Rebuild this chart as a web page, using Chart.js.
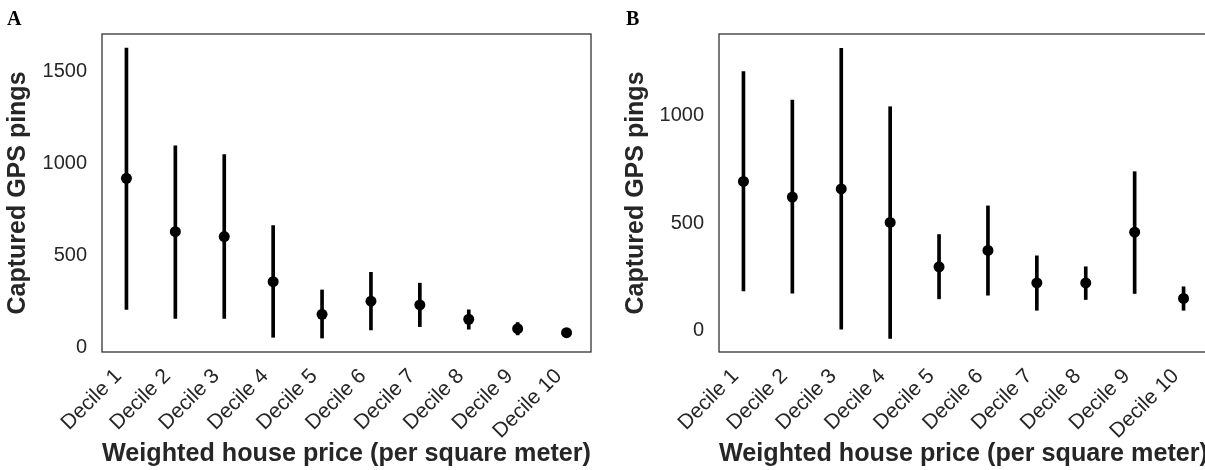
<!DOCTYPE html>
<html>
<head>
<meta charset="utf-8">
<script src="https://cdn.jsdelivr.net/npm/chart.js@4.4.1/dist/chart.umd.min.js"></script>
<style>
  html, body { margin: 0; padding: 0; background: #fff; width: 1205px; height: 470px; overflow: hidden; position: relative; }
  #wa { position: absolute; left: 0; top: 0; width: 600px; height: 470px; }
  #wb { position: absolute; left: 600px; top: 0; width: 620px; height: 470px; }
</style>
</head>
<body>
<div id="wa"><canvas id="ca"></canvas></div>
<div id="wb"><canvas id="cb"></canvas></div>
<script>
// ---- data ----
const categories = ["Decile 1","Decile 2","Decile 3","Decile 4","Decile 5","Decile 6","Decile 7","Decile 8","Decile 9","Decile 10"];

// Panel A
const meanA = [922, 632, 605, 360, 183, 254, 234, 156, 105, 83];
const lowA  = [210, 161, 161, 58, 54, 98, 116, 102, 71, 70];
const highA = [1630, 1098, 1051, 665, 315, 411, 352, 207, 138, 97];
const yTicksA = [0, 500, 1000, 1500];

// Panel B
const meanB = [695, 622, 660, 504, 298, 374, 223, 223, 459, 151];
const lowB  = [186, 175, 8, -35, 149, 166, 96, 146, 174, 96];
const highB = [1205, 1073, 1313, 1042, 448, 581, 349, 298, 740, 205];
const yTicksB = [0, 500, 1000];

const yTitle = "Captured GPS pings";
const xTitle = "Weighted house price (per square meter)";

const TEXT = '#262626';
const SANS = '"Liberation Sans", Arial, sans-serif';

function boxPlugin(letter, lx) {
  return {
    id: 'box' + letter,
    afterDraw(chart) {
      const {ctx, chartArea: a} = chart;
      ctx.save();
      ctx.strokeStyle = '#333';
      ctx.lineWidth = 1.3;
      ctx.strokeRect(a.left, a.top, a.right - a.left, a.bottom - a.top);
      ctx.fillStyle = '#000';
      ctx.font = 'bold 20px "Liberation Serif", serif';
      ctx.textBaseline = 'alphabetic';
      ctx.fillText(letter, lx, 25);
      ctx.restore();
    }
  };
}

function makeChart(id, mean, low, high, yTicks, yMin, yMax, cfg) {
  const ranges = low.map((l, i) => [l, high[i]]);
  return new Chart(document.getElementById(id), {
    data: {
      labels: categories,
      datasets: [
        {
          type: 'line',
          data: mean,
          showLine: false,
          pointRadius: 5.5,
          pointHoverRadius: 5.5,
          pointBackgroundColor: '#000',
          pointBorderColor: '#000',
          pointBorderWidth: 0,
          order: 1
        },
        {
          type: 'bar',
          data: ranges,
          backgroundColor: '#000',
          borderWidth: 0,
          barThickness: 3,
          order: 2
        }
      ]
    },
    options: {
      responsive: true,
      maintainAspectRatio: false,
      animation: false,
      devicePixelRatio: 1,
      layout: { padding: { top: 34, right: cfg.right, left: 0, bottom: 0 } },
      plugins: { legend: { display: false }, tooltip: { enabled: false } },
      scales: {
        x: {
          type: 'category',
          offset: true,
          grid: { display: false, drawTicks: false },
          border: { display: false },
          ticks: {
            color: TEXT,
            font: { family: SANS, size: 21 },
            minRotation: 45,
            maxRotation: 45,
            padding: 12,
            labelOffset: -8,
            autoSkip: false
          },
          title: {
            display: true,
            text: xTitle,
            color: TEXT,
            font: { family: SANS, size: 26, weight: 'bold', lineHeight: 1 },
            padding: { top: 0, bottom: 3.5 }
          },
          afterFit: s => { s.height = 118; }
        },
        y: {
          type: 'linear',
          min: yMin,
          max: yMax,
          grid: { display: false, drawTicks: false },
          border: { display: false },
          ticks: {
            color: TEXT,
            font: { family: SANS, size: 20 },
            padding: 15,
            callback: v => String(v)
          },
          afterBuildTicks: s => { s.ticks = yTicks.map(v => ({ value: v })); },
          title: {
            display: true,
            text: yTitle,
            color: TEXT,
            font: { family: SANS, size: 25, weight: 'bold', lineHeight: 1 },
            padding: { top: cfg.titlePad, bottom: 0 }
          },
          afterFit: s => { s.width = cfg.yWidth; }
        }
      }
    },
    plugins: [boxPlugin(cfg.letter, cfg.lx)]
  });
}

makeChart('ca', meanA, lowA, highA, yTicksA, -22, 1706, { right: 9, yWidth: 102, titlePad: 6, letter: 'A', lx: 7 });
makeChart('cb', meanB, lowB, highB, yTicksB, -98, 1380, { right: 12, yWidth: 119, titlePad: 23.5, letter: 'B', lx: 26 });
</script>
</body>
</html>
